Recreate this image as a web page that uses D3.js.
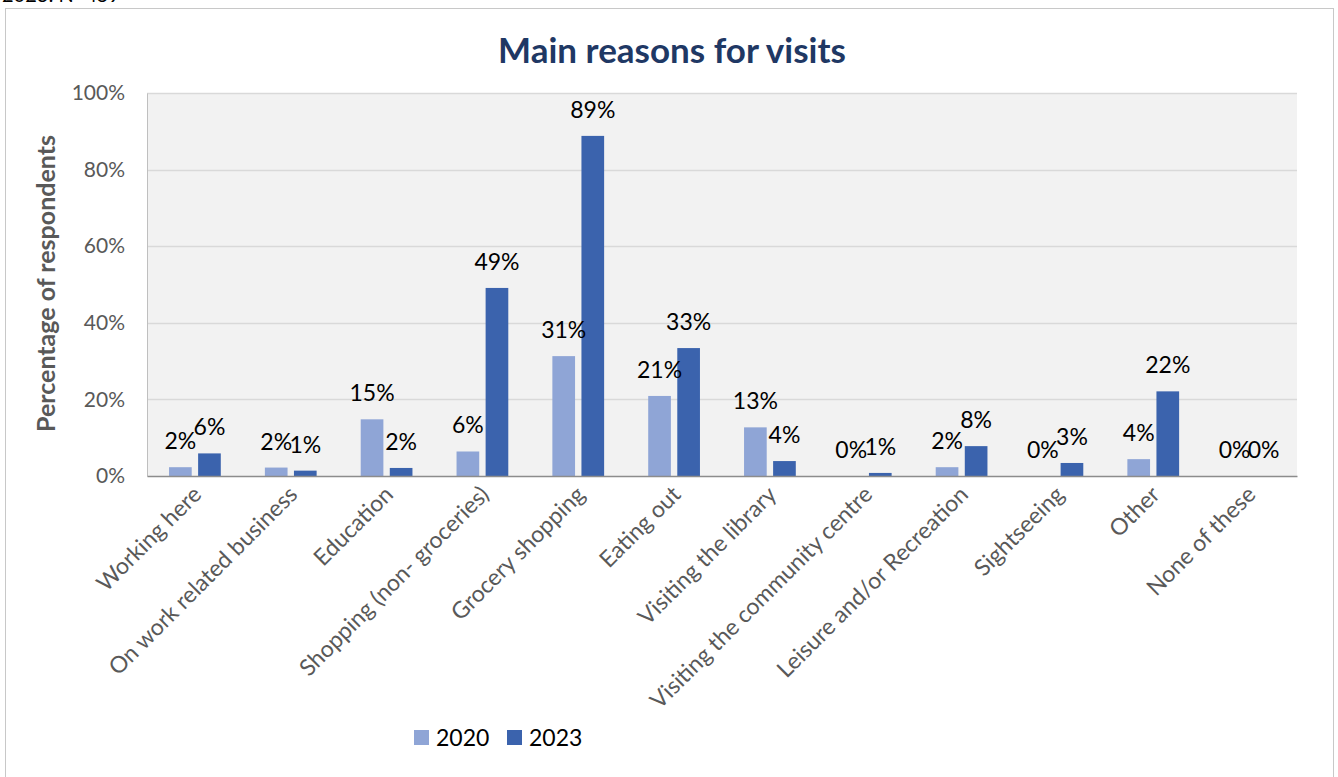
<!DOCTYPE html>
<html>
<head>
<meta charset="utf-8">
<script src="https://cdn.jsdelivr.net/npm/d3@7"></script>
<style>
  html, body { margin: 0; padding: 0; background: #ffffff; }
  svg { display: block; font-family: Lato, "Open Sans", sans-serif; }
</style>
</head>
<body>
<svg id="chart" width="1338" height="777"></svg>
<script>
// Reasons for visiting, share of respondents (%)
const categories = [
  "Working here", "On work related business", "Education",
  "Shopping (non- groceries)", "Grocery shopping", "Eating out",
  "Visiting the library", "Visiting the community centre",
  "Leisure and/or Recreation", "Sightseeing", "Other", "None of these"
];
const seriesNames = ["2020", "2023"];
const values2020 = [2.3, 2.2, 14.8, 6.4, 31.3, 20.9, 12.7, 0, 2.3, 0, 4.4, 0];
const values2023 = [5.9, 1.4, 2.1, 49.1, 88.8, 33.4, 3.9, 0.8, 7.8, 3.4, 22.1, 0];
const yTicks = [0, 20, 40, 60, 80, 100];
const colors = ["#8fa5d6", "#3b63ad"];

const svg = d3.select("#chart");
const plot = { left: 147, right: 1297, top: 93, bottom: 476 };

// Outer frame and the caption line above it
svg.append("text").attr("x", 2).attr("y", 2)
  .attr("font-size", 20).attr("fill", "#000").text("2023: N=459");
svg.append("rect").attr("x", 5.5).attr("y", 8.5)
  .attr("width", 1328).attr("height", 780)
  .attr("fill", "#ffffff").attr("stroke", "#c8c8c8").attr("stroke-width", 1);

const x0 = d3.scaleBand().domain(categories)
  .range([plot.left, plot.right]).paddingInner(0.46).paddingOuter(0.23);
const x1 = d3.scaleBand().domain(seriesNames)
  .range([0, x0.bandwidth()]).paddingInner(0.22);
const y = d3.scaleLinear().domain([0, 100]).range([plot.bottom, plot.top]);

// Plot background
svg.append("rect").attr("x", plot.left).attr("y", plot.top)
  .attr("width", plot.right - plot.left).attr("height", plot.bottom - plot.top)
  .attr("fill", "#f2f2f2");

// Gridlines
svg.append("g").selectAll("line").data(yTicks.filter(d => d > 0)).join("line")
  .attr("x1", plot.left).attr("x2", plot.right)
  .attr("y1", d => Math.round(y(d)) + 0.5).attr("y2", d => Math.round(y(d)) + 0.5)
  .attr("stroke", "#d9d9d9").attr("stroke-width", 1.5);

// Y axis
const yAxis = svg.append("g").attr("transform", `translate(${plot.left},0)`)
  .call(d3.axisLeft(y).tickValues(yTicks).tickFormat(d => d + "%").tickSize(0).tickPadding(22));
yAxis.select(".domain").attr("stroke", "#bfbfbf");
yAxis.selectAll("text").attr("font-size", 21).attr("fill", "#595959")
  .attr("font-family", "Lato, sans-serif");

// Y axis title
svg.append("text")
  .attr("transform", `translate(55,${(plot.top + plot.bottom) / 2 - 1}) rotate(-90)`)
  .attr("text-anchor", "middle").attr("font-size", 25).attr("font-weight", "bold")
  .attr("fill", "#595959").text("Percentage of respondents");

// Bars
const rows = categories.map((c, i) => ({ cat: c, vals: [values2020[i], values2023[i]] }));
const groups = svg.append("g").selectAll("g").data(rows).join("g")
  .attr("transform", d => `translate(${x0(d.cat)},0)`);
groups.selectAll("rect").data(d => d.vals.map((v, j) => ({ key: seriesNames[j], v, j }))).join("rect")
  .attr("x", d => x1(d.key)).attr("width", x1.bandwidth())
  .attr("y", d => y(d.v)).attr("height", d => y(0) - y(d.v))
  .attr("fill", d => colors[d.j]);

// Value labels
groups.selectAll("text.val").data(d => d.vals.map((v, j) => ({ key: seriesNames[j], v, j }))).join("text")
  .attr("class", "val")
  .attr("x", d => x1(d.key) + x1.bandwidth() / 2)
  .attr("y", d => y(d.v) - 18)
  .attr("text-anchor", "middle").attr("font-size", 23).attr("fill", "#000")
  .text(d => Math.round(d.v) + "%");

// X axis
const xAxis = svg.append("g").attr("transform", `translate(0,${plot.bottom})`)
  .call(d3.axisBottom(x0).tickSize(0).tickPadding(0));
xAxis.select(".domain").attr("stroke", "#8c8c8c").attr("stroke-width", 1.5);
xAxis.selectAll("text")
  .attr("font-size", 23).attr("fill", "#595959").attr("font-family", "Lato, sans-serif")
  .attr("text-anchor", "end").attr("dy", null).attr("y", 0)
  .attr("transform", "translate(8,20) rotate(-45)");

// Title
svg.append("text").attr("x", 672).attr("y", 63).attr("text-anchor", "middle")
  .attr("font-size", 35).attr("font-weight", "bold").attr("fill", "#1f3864")
  .text("Main reasons for visits");

// Legend
const legend = svg.append("g").attr("transform", "translate(414,730)");
const li = legend.selectAll("g").data(seriesNames).join("g")
  .attr("transform", (d, i) => `translate(${i * 93},0)`);
li.append("rect").attr("width", 15).attr("height", 15).attr("fill", (d, i) => colors[i]);
li.append("text").attr("x", 22).attr("y", 16).attr("font-size", 23).attr("fill", "#000").text(d => d);
</script>
</body>
</html>
